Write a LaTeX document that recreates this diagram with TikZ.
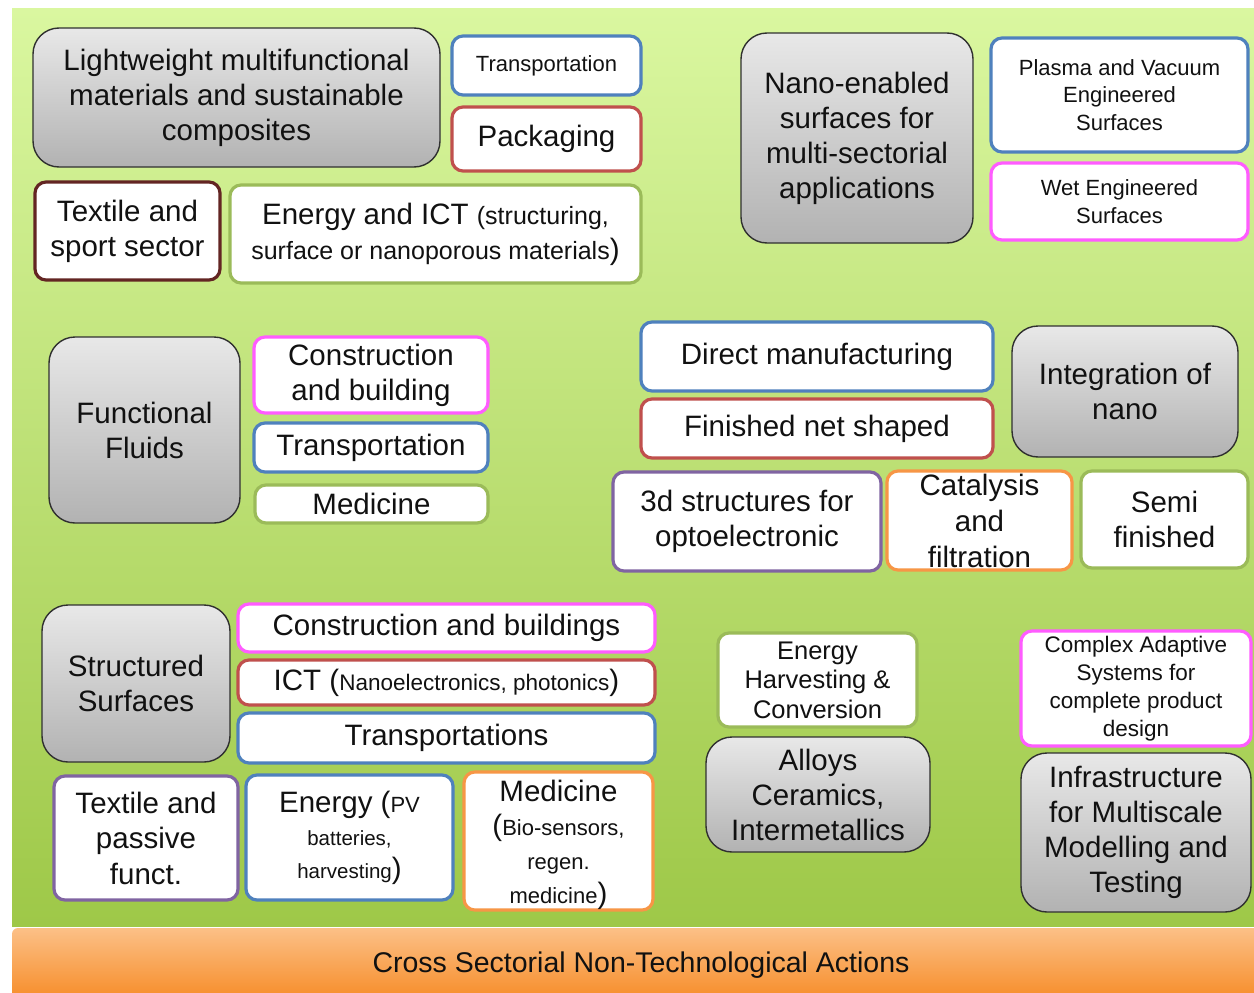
\documentclass[tikz,border=0pt]{standalone}
\usepackage{fontspec}
\setmainfont{Liberation Sans}
\definecolor{cblue}{HTML}{4F81BD}
\definecolor{cred}{HTML}{C0504D}
\definecolor{cgreen}{HTML}{9BBB59}
\definecolor{cpurple}{HTML}{8064A2}
\definecolor{corange}{HTML}{F79646}
\definecolor{cmag}{HTML}{FF5CFF}
\definecolor{cmaroon}{HTML}{632523}
\definecolor{gborder}{HTML}{303030}
\definecolor{gtop}{HTML}{E8E8E8}
\definecolor{gbot}{HTML}{B2B2B2}
\definecolor{txt}{HTML}{111111}
\definecolor{bgtop}{RGB}{218,247,160}
\definecolor{bgbot}{RGB}{158,200,72}
\definecolor{ortop}{RGB}{252,192,135}
\definecolor{orbot}{RGB}{246,140,40}
\newcommand\fL{\fontsize{29.5}{35}\selectfont}
\newcommand\fS{\fontsize{22}{27.5}\selectfont}
\newcommand\bx[7]{%
  \pgfmathsetmacro\bxw{#5-#3}\pgfmathsetmacro\bxh{#6-#4}%
  \pgfmathsetmacro\bxx{(#3+#5)/2}\pgfmathsetmacro\bxy{(#4+#6)/2}%
  \node[#2,minimum width=\bxw pt,minimum height=\bxh pt] (#1) at (\bxx,\bxy) {#7};}
\tikzset{
  gbox/.style={draw=gborder, line width=1.4pt, rounded corners=26pt, top color=gtop, bottom color=gbot, align=center, inner sep=0pt, font=\fL, text=txt},
  wbox/.style={draw=#1, fill=white, line width=3.2pt, rounded corners=11pt, align=center, inner sep=0pt, font=\fL, text=txt},
  plain/.style={inner sep=0pt, font=\fL, text=txt, align=center},
}
\begin{document}
\begin{tikzpicture}[x=1pt,y=-1pt]
\useasboundingbox (0,0) rectangle (1254,993);
\fill[white] (0,0) rectangle (1254,993);
% background panels
\bx{bg}{draw=none, top color=bgtop, bottom color=bgbot, inner sep=0pt}{12}{8}{1254}{926}{}
\bx{crossbar}{draw=none, top color=ortop, bottom color=orbot, inner sep=0pt, rounded corners=6pt}{12}{928}{1262}{1000}{}
\node[plain, font=\fontsize{28.5}{34}\selectfont] (cross) at (641,965) {Cross Sectorial Non-Technological Actions};
% top-left group
\bx{light}{gbox}{33}{28}{440}{167}{Lightweight multifunctional\\materials and sustainable\\composites}
\bx{trans1}{wbox=cblue, font=\fS}{452}{36}{641}{95}{Transportation}
\bx{pack}{wbox=cred}{452}{107}{641}{171}{Packaging}
\bx{texsport}{wbox=cmaroon}{35}{182}{220}{280}{Textile and\\sport sector}
\bx{enict}{wbox=cgreen}{230}{185}{641}{283}{Energy and ICT {\fontsize{25}{36}\selectfont(structuring,}\\{\fontsize{25}{36}\selectfont surface or nanoporous materials})}
% top-right group
\bx{nano}{gbox}{741}{33}{973}{243}{Nano-enabled\\surfaces for\\multi-sectorial\\applications}
\bx{plasma}{wbox=cblue, font=\fS}{991}{38}{1248}{152}{Plasma and Vacuum\\Engineered\\Surfaces}
\bx{wet}{wbox=cmag, font=\fS}{991}{163}{1248}{240}{Wet Engineered\\Surfaces}
% middle-left group
\bx{fluids}{gbox}{49}{337}{240}{523}{Functional\\Fluids}
\bx{constr1}{wbox=cmag}{254}{337}{488}{413}{Construction\\and building}
\bx{trans2}{wbox=cblue}{254}{423}{488}{472}{Transportation}
\bx{med1}{wbox=cgreen}{255}{485}{488}{523}{Medicine}
% middle-right group
\bx{direct}{wbox=cblue}{641}{322}{993}{391}{Direct manufacturing}
\bx{finished}{wbox=cred}{641}{399}{993}{458}{Finished net shaped}
\bx{integ}{gbox}{1012}{326}{1238}{457}{Integration of\\nano}
\bx{threed}{wbox=cpurple}{613}{472}{881}{571}{3d structures for\\optoelectronic}
\bx{catal}{wbox=corange, font=\fontsize{29.5}{36}\selectfont}{887}{471}{1072}{570}{Catalysis\\and\\filtration}
\bx{semi}{wbox=cgreen}{1081}{471}{1248}{568}{Semi\\finished}
% bottom-left group
\bx{struct}{gbox}{42}{605}{230}{762}{Structured\\Surfaces}
\bx{constr2}{wbox=cmag}{238}{604}{655}{652}{Construction and buildings}
\bx{ict}{wbox=cred}{238}{660}{655}{705}{ICT (\fontsize{22.5}{35}\selectfont Nanoelectronics, photonics\fL)}
\bx{trans3}{wbox=cblue}{238}{713}{655}{763}{Transportations}
\bx{texpass}{wbox=cpurple, font=\fontsize{29.5}{35.5}\selectfont}{54}{776}{238}{900}{Textile and\\passive\\funct.}
\bx{energy}{wbox=cblue, font=\fontsize{29.5}{33}\selectfont}{246}{775}{453}{900}{Energy ({\fontsize{22}{33}\selectfont PV}\\{\fontsize{20.5}{33}\selectfont batteries,}\\{\fontsize{20.5}{33}\selectfont harvesting})}
\bx{med2}{wbox=corange, font=\fontsize{29.5}{34}\selectfont}{464}{773}{653}{909}{\rule{0pt}{30pt}Medicine\\({\fontsize{22}{34}\selectfont Bio-sensors,}\\{\fontsize{22}{34}\selectfont regen.}\\{\fontsize{22}{34}\selectfont medicine})}
% bottom-middle / right
\bx{harv}{wbox=cgreen, font=\fontsize{25.5}{29.5}\selectfont}{718}{633}{917}{727}{Energy\\Harvesting \&\\Conversion}
\bx{alloys}{gbox}{706}{737}{930}{852}{Alloys\\Ceramics,\\Intermetallics}
\bx{complex}{wbox=cmag, font=\fontsize{22.5}{28}\selectfont}{1021}{631}{1251}{746}{Complex Adaptive\\Systems for\\complete product\\design}
\bx{infra}{gbox}{1021}{753}{1251}{912}{Infrastructure\\for Multiscale\\Modelling and\\Testing}
\end{tikzpicture}
\end{document}
